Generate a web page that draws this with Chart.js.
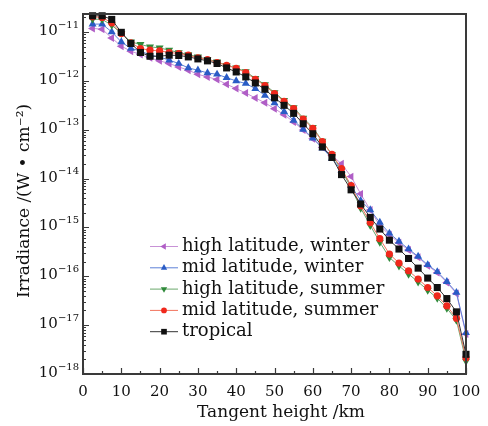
<!DOCTYPE html>
<html>
<head>
<meta charset="utf-8">
<script src="https://cdn.jsdelivr.net/npm/chart.js@4.4.1/dist/chart.umd.min.js"></script>
<style>
  html, body { margin: 0; padding: 0; background: #fff; }
</style>
</head>
<body>
<canvas id="graficoIrradiancia" width="488" height="426"></canvas>
<script>
// altura tangente (km)
const alturas = [2.5, 5, 7.5, 10, 12.5, 15, 17.5, 20, 22.5, 25, 27.5, 30, 32.5, 35, 37.5, 40,
  42.5, 45, 47.5, 50, 52.5, 55, 57.5, 60, 62.5, 65, 67.5, 70, 72.5, 75, 77.5, 80,
  82.5, 85, 87.5, 90, 92.5, 95, 97.5, 100];

const altaLatInverno = [1.19e-11, 1.15e-11, 7.6e-12, 5.16e-12, 4.07e-12, 3.48e-12, 2.97e-12, 2.58e-12,
  2.28e-12, 1.94e-12, 1.66e-12, 1.37e-12, 1.21e-12, 1.07e-12, 8.55e-13, 6.98e-13,
  5.67e-13, 4.48e-13, 3.57e-13, 2.71e-13, 2.04e-13, 1.45e-13, 9.86e-14, 6.56e-14,
  4.35e-14, 2.98e-14, 2.01e-14, 1.1e-14, 4.88e-15, 2.29e-15, 1.09e-15, 7.1e-16,
  4.87e-16, 3.45e-16, 2.45e-16, 1.65e-16, 1.19e-16, 7.5e-17, 4.45e-17, 6.6e-18];

const mediaLatInverno = [1.46e-11, 1.46e-11, 1.01e-11, 6.3e-12, 4.62e-12, 4.13e-12, 3.37e-12, 3.11e-12,
  2.66e-12, 2.28e-12, 1.85e-12, 1.66e-12, 1.46e-12, 1.37e-12, 1.17e-12, 1.0e-12,
  8.85e-13, 6.98e-13, 5.08e-13, 3.53e-13, 2.35e-13, 1.56e-13, 1.02e-13, 6.76e-14,
  4.21e-14, 2.59e-14, 1.47e-14, 7.2e-15, 3.55e-15, 2.29e-15, 1.27e-15, 7.6e-16,
  5.2e-16, 3.62e-16, 2.55e-16, 1.72e-16, 1.24e-16, 7.8e-17, 4.65e-17, 7.0e-18];

const altaLatVerao = [1.85e-11, 1.82e-11, 1.39e-11, 9.4e-12, 6.3e-12, 5.6e-12, 4.99e-12, 4.76e-12,
  4.27e-12, 3.83e-12, 3.48e-12, 3.11e-12, 2.79e-12, 2.46e-12, 2.1e-12, 1.85e-12,
  1.56e-12, 1.13e-12, 8.4e-13, 5.8e-13, 4.0e-13, 2.85e-13, 1.75e-13, 1.12e-13,
  5.9e-14, 3.1e-14, 1.5e-14, 6.5e-15, 2.5e-15, 1.1e-15, 5.0e-16, 2.43e-16,
  1.64e-16, 1.11e-16, 7.7e-17, 5.2e-17, 3.57e-17, 2.22e-17, 1.26e-17, 1.84e-18];

const mediaLatVerao = [2.06e-11, 2.0e-11, 1.55e-11, 9.4e-12, 6.03e-12, 4.62e-12, 4.27e-12, 4.13e-12,
  3.83e-12, 3.65e-12, 3.37e-12, 2.97e-12, 2.75e-12, 2.39e-12, 2.1e-12, 1.82e-12,
  1.49e-12, 1.08e-12, 8.05e-13, 5.51e-13, 3.83e-13, 2.71e-13, 1.66e-13, 1.07e-13,
  5.7e-14, 3.13e-14, 1.61e-14, 7.2e-15, 2.8e-15, 1.26e-15, 5.9e-16, 2.86e-16,
  1.87e-16, 1.30e-16, 8.8e-17, 5.9e-17, 3.98e-17, 2.48e-17, 1.39e-17, 2.15e-18];

const tropical = [2.16e-11, 2.16e-11, 1.82e-11, 9.9e-12, 5.86e-12, 3.83e-12, 3.21e-12, 3.21e-12,
  3.37e-12, 3.33e-12, 3.11e-12, 2.83e-12, 2.58e-12, 2.28e-12, 1.85e-12, 1.53e-12,
  1.21e-12, 9.1e-13, 6.76e-13, 4.52e-13, 3.17e-13, 2.17e-13, 1.33e-13, 8.3e-14,
  4.46e-14, 2.71e-14, 1.21e-14, 5.9e-15, 3.03e-15, 1.61e-15, 9.3e-16, 5.5e-16,
  3.62e-16, 2.32e-16, 1.47e-16, 9.2e-17, 5.9e-17, 3.5e-17, 1.87e-17, 2.53e-18];

const rotulosX = [0, 10, 20, 30, 40, 50, 60, 70, 80, 90, 100];
const expoentesY = [-18, -17, -16, -15, -14, -13, -12, -11];

const FONTE = '"DejaVu Serif", "Liberation Serif", serif';

function serie(label, valores, marcador, linha, estilo, rotacao, raio, ordem) {
  return {
    label: label,
    data: alturas.map((h, i) => ({ x: h, y: valores[i] })),
    borderColor: linha,
    backgroundColor: marcador,
    pointBackgroundColor: marcador,
    pointBorderColor: marcador,
    pointBorderWidth: 0,
    pointStyle: estilo,
    pointRotation: rotacao,
    pointRadius: raio,
    borderWidth: 1,
    order: ordem,
    clip: false
  };
}

function desenhaMarcador(ctx, estilo, rot, r, cx, cy) {
  ctx.beginPath();
  if (estilo === 'circle') {
    ctx.arc(cx, cy, r, 0, Math.PI * 2);
  } else if (estilo === 'rect') {
    const s = r * Math.SQRT1_2;
    ctx.rect(cx - s, cy - s, 2 * s, 2 * s);
  } else {
    for (let i = 0; i < 3; i++) {
      const a = (rot + i * 120) * Math.PI / 180;
      const px = cx + Math.sin(a) * r, py = cy - Math.cos(a) * r;
      if (i) ctx.lineTo(px, py); else ctx.moveTo(px, py);
    }
    ctx.closePath();
  }
  ctx.fill();
}

const eixosPlugin = {
  id: 'eixos',
  afterDraw(chart) {
    const ctx = chart.ctx;
    const area = chart.chartArea;
    const sx = chart.scales.x, sy = chart.scales.y;
    ctx.save();

    // moldura
    ctx.strokeStyle = '#3a3a3a';
    ctx.lineWidth = 2;
    ctx.strokeRect(area.left, area.top, area.right - area.left, area.bottom - area.top);

    // ticks para dentro
    ctx.lineWidth = 1.2;
    ctx.beginPath();
    for (let v = 0; v <= 100; v += 5) {
      const px = Math.round(sx.getPixelForValue(v)) + 0.5;
      const len = v % 10 === 0 ? 6 : 3;
      ctx.moveTo(px, area.bottom);
      ctx.lineTo(px, area.bottom - len);
    }
    expoentesY.forEach(e => {
      for (let m = 1; m <= 9; m++) {
        const v = m * Math.pow(10, e);
        if (v > sy.max) break;
        const py = Math.round(sy.getPixelForValue(v)) + 0.5;
        ctx.moveTo(area.left, py);
        ctx.lineTo(area.left + (m === 1 ? 6 : 3), py);
      }
    });
    ctx.stroke();

    // rotulos do eixo x
    ctx.fillStyle = '#111';
    ctx.font = '15px ' + FONTE;
    ctx.textAlign = 'center';
    ctx.textBaseline = 'middle';
    rotulosX.forEach(v => {
      ctx.fillText(String(v), sx.getPixelForValue(v), 392);
    });

    // rotulos do eixo y (10 com expoente)
    ctx.textAlign = 'right';
    expoentesY.forEach(e => {
      const py = sy.getPixelForValue(Math.pow(10, e));
      const sup = '\u2212' + Math.abs(e);
      ctx.font = '10px ' + FONTE;
      const larg = ctx.measureText(sup).width;
      ctx.fillText(sup, area.left - 4, py - 7);
      ctx.font = '15px ' + FONTE;
      ctx.fillText('10', area.left - 4 - larg, py - 1);
    });

    // titulos
    ctx.font = '17px ' + FONTE;
    ctx.textAlign = 'center';
    ctx.fillText('Tangent height /km', 281, 413);
    ctx.save();
    ctx.translate(25, 201);
    ctx.rotate(-Math.PI / 2);
    ctx.fillText('Irradiance /(W \u2022 cm\u207B\u00B2)', 0, 0);
    ctx.restore();

    // legenda
    ctx.font = '18px ' + FONTE;
    ctx.textAlign = 'left';
    chart.data.datasets.forEach((ds, i) => {
      const yy = 246.5 + i * 21.3;
      ctx.strokeStyle = ds.borderColor;
      ctx.lineWidth = 1;
      ctx.beginPath();
      ctx.moveTo(150, yy);
      ctx.lineTo(178, yy);
      ctx.stroke();
      ctx.fillStyle = ds.pointBackgroundColor;
      desenhaMarcador(ctx, ds.pointStyle, ds.pointRotation, ds.pointRadius * 0.8, 164, yy);
      ctx.fillStyle = '#111';
      ctx.fillText(ds.label, 182, yy);
    });
    ctx.restore();
  }
};

const grafico = new Chart(document.querySelector('#graficoIrradiancia'), {
  type: 'line',
  data: {
    datasets: [
      serie('high latitude, winter', altaLatInverno, '#b05ec6', '#c892d6', 'triangle', -90, 4.6, 5),
      serie('mid latitude, winter', mediaLatInverno, '#2a5cc6', '#5d80d8', 'triangle', 0, 4.6, 4),
      serie('high latitude, summer', altaLatVerao, '#2f8a3a', '#6aa86c', 'triangle', 180, 4.6, 3),
      serie('mid latitude, summer', mediaLatVerao, '#f0281c', '#f2735c', 'circle', 0, 3.6, 2),
      serie('tropical', tropical, '#111111', '#333333', 'rect', 0, 5, 1)
    ]
  },
  options: {
    responsive: false,
    animation: false,
    devicePixelRatio: 1,
    layout: { padding: { top: 14, right: 22, left: 0, bottom: 0 } },
    plugins: { legend: { display: false }, tooltip: { enabled: false } },
    scales: {
      x: {
        type: 'linear', min: 0, max: 100,
        grid: { display: false }, border: { display: false },
        ticks: { display: false },
        afterFit(s) { s.height = 52; }
      },
      y: {
        type: 'logarithmic', min: 1e-18, max: 2.35e-11,
        grid: { display: false }, border: { display: false },
        ticks: { display: false },
        afterFit(s) { s.width = 83; }
      }
    }
  },
  plugins: [eixosPlugin]
});
</script>
</body>
</html>
